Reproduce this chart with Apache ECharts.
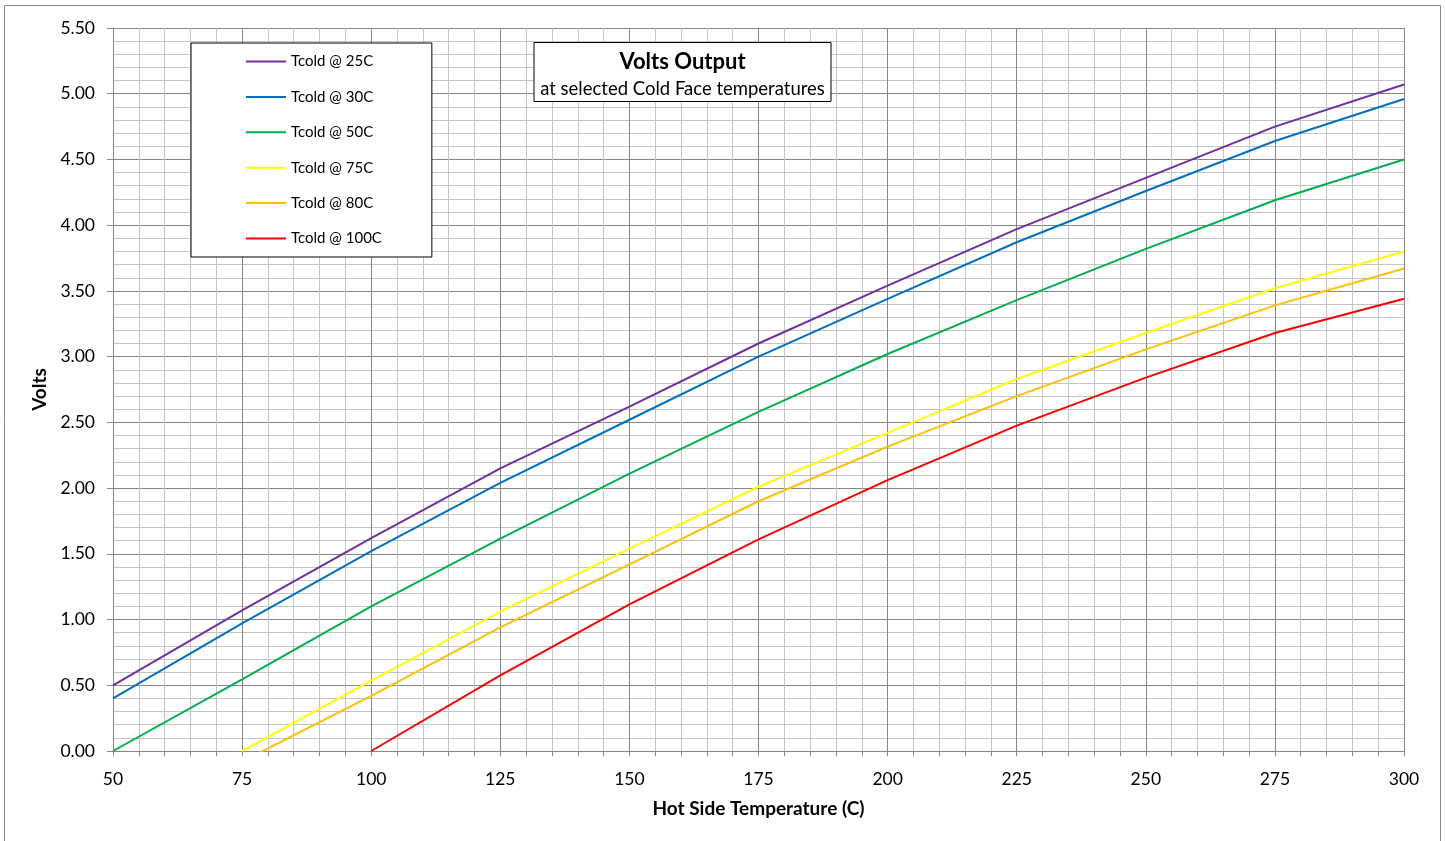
<!DOCTYPE html>
<html>
<head>
<meta charset="utf-8">
<script src="https://cdn.jsdelivr.net/npm/echarts@6/dist/echarts.min.js"></script>
<style>
html,body{margin:0;padding:0;background:#fff;}
#chart{width:1445px;height:841px;}
</style>
</head>
<body>
<div id="chart"></div>
<script>
const hotTemps = [50, 75, 100, 125, 150, 175, 200, 225, 250, 275, 300];
const seriesNames = ['Tcold @ 25C', 'Tcold @ 30C', 'Tcold @ 50C', 'Tcold @ 75C', 'Tcold @ 80C', 'Tcold @ 100C'];
const tcold25 = [0.50, 1.07, 1.62, 2.15, 2.62, 3.10, 3.54, 3.97, 4.36, 4.75, 5.07];
const tcold30 = [0.40, 0.97, 1.52, 2.04, 2.52, 3.00, 3.44, 3.87, 4.26, 4.64, 4.96];
const tcold50 = [0.00, 0.545, 1.10, 1.615, 2.11, 2.58, 3.02, 3.43, 3.82, 4.19, 4.50];
const tcold75 = [null, 0.00, 0.535, 1.06, 1.54, 2.01, 2.42, 2.83, 3.18, 3.52, 3.80];
const tcold80 = [null, -0.08, 0.42, 0.94, 1.42, 1.90, 2.315, 2.70, 3.055, 3.39, 3.67];
const tcold100 = [null, null, 0.00, 0.575, 1.115, 1.61, 2.06, 2.475, 2.84, 3.18, 3.44];
const seriesColors = ['#7030A0', '#0070C0', '#00B050', '#FFFF00', '#FFC000', '#FF0000'];
const allValues = [tcold25, tcold30, tcold50, tcold75, tcold80, tcold100];

const FONT = 'Lato, "Open Sans", sans-serif';
const MAJOR = '#868686';
const MINOR = '#C4C4C4';

function pairs(vals) {
  const out = [];
  vals.forEach((v, i) => { if (v !== null) out.push([hotTemps[i], v]); });
  return out;
}

const chart = echarts.init(document.getElementById('chart'), null, {renderer: 'canvas'});
chart.setOption({
  animation: false,
  backgroundColor: '#fff',
  textStyle: {fontFamily: FONT, color: '#000'},
  graphic: [{
    type: 'rect', silent: true, z: -1,
    shape: {x: 4.5, y: 5.5, width: 1436, height: 860},
    style: {fill: 'none', stroke: MAJOR, lineWidth: 1}
  }],
  title: {
    text: 'Volts Output',
    subtext: 'at selected Cold Face temperatures',
    left: 676.5, top: 42,
    textAlign: 'center',
    padding: [9, 6, 3, 6],
    itemGap: 7,
    backgroundColor: '#fff',
    borderColor: '#000', borderWidth: 1,
    textStyle: {fontFamily: FONT, fontSize: 22, fontWeight: 'bold', color: '#000'},
    subtextStyle: {fontFamily: FONT, fontSize: 18.5, color: '#000'}
  },
  legend: {
    orient: 'vertical',
    left: 191, top: 43,
    padding: [11, 50, 11, 54],
    itemWidth: 40, itemHeight: 14, itemGap: 20.4,
    backgroundColor: '#fff',
    borderColor: '#000', borderWidth: 1,
    itemStyle: {opacity: 0},
    textStyle: {fontFamily: FONT, fontSize: 15, color: '#000'},
    data: seriesNames
  },
  grid: {left: 113, right: 41, top: 28, bottom: 90, containLabel: false},
  xAxis: {
    type: 'value', min: 50, max: 300, interval: 25,
    name: 'Hot Side Temperature (C)', nameLocation: 'middle', nameGap: 48,
    nameTextStyle: {fontFamily: FONT, fontSize: 19, fontWeight: 'bold', color: '#000'},
    axisLine: {show: true, lineStyle: {color: MAJOR, width: 1}},
    axisTick: {show: true, length: 5, lineStyle: {color: MAJOR}},
    minorTick: {show: true, splitNumber: 5, length: 5, lineStyle: {color: MAJOR}},
    axisLabel: {fontFamily: FONT, fontSize: 17.5, color: '#000', margin: 19},
    splitLine: {show: true, lineStyle: {color: MAJOR, width: 1}},
    minorSplitLine: {show: true, lineStyle: {color: MINOR, width: 1}}
  },
  yAxis: {
    type: 'value', min: 0, max: 5.5, interval: 0.5,
    name: 'Volts', nameLocation: 'middle', nameGap: 62, nameRotate: 90,
    nameTextStyle: {fontFamily: FONT, fontSize: 19, fontWeight: 'bold', color: '#000'},
    axisLine: {show: true, lineStyle: {color: MAJOR, width: 1}},
    axisTick: {show: true, length: 6, lineStyle: {color: MAJOR}},
    minorTick: {show: false, splitNumber: 5},
    axisLabel: {fontFamily: FONT, fontSize: 17.5, color: '#000', margin: 18,
      formatter: v => v.toFixed(2)},
    splitLine: {show: true, lineStyle: {color: MAJOR, width: 1}},
    minorSplitLine: {show: true, lineStyle: {color: MINOR, width: 1}}
  },
  series: seriesNames.map((name, i) => ({
    name: name,
    type: 'line',
    data: pairs(allValues[i]),
    symbol: 'none',
    clip: true,
    color: seriesColors[i],
    lineStyle: {color: seriesColors[i], width: 2},
    z: 3
  }))
});
</script>
</body>
</html>
